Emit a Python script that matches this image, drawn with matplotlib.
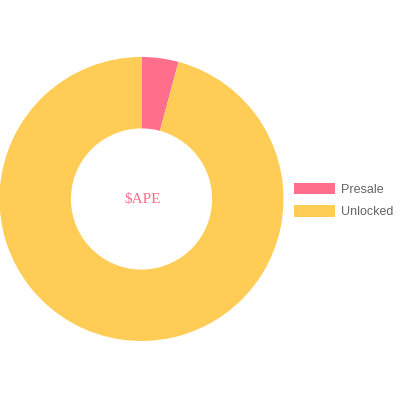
import matplotlib
matplotlib.use("Agg")
import matplotlib.pyplot as plt

labels = ["Presale", "Unlocked"]
values = [4.2, 95.8]
colors = ["#FF6F8C", "#FFCD56"]
center_label = "$APE"

W, H = 400, 400
fig = plt.figure(figsize=(4, 4), dpi=100)
cx, cy, R = 141.5, 201, 142
ax = fig.add_axes([(cx - R) / W, (cy - R) / H, 2 * R / W, 2 * R / H])
ax.set_xlim(-1, 1)
ax.set_ylim(-1, 1)
ax.set_aspect("equal")
ax.axis("off")

wedges, _ = ax.pie(values, colors=colors, startangle=90, counterclock=False,
                   radius=1, wedgeprops=dict(width=0.503, linewidth=0))
ax.set_xlim(-1, 1)
ax.set_ylim(-1, 1)

ax.text(0.01, 0.0, center_label, ha="center", va="center", color="#FF6F8C",
        fontsize=11, family="Liberation Serif")

leg = fig.legend(wedges, labels, loc="center left",
                 bbox_to_anchor=(294 / W, 1 - 200.5 / H), frameon=False,
                 prop=dict(family="Liberation Sans", size=9),
                 handlelength=3.3, handleheight=1.0, labelspacing=0.78,
                 handletextpad=0.42, borderpad=0, borderaxespad=0)
for t in leg.get_texts():
    t.set_color("#666666")

fig.savefig("out.png", dpi=100)
